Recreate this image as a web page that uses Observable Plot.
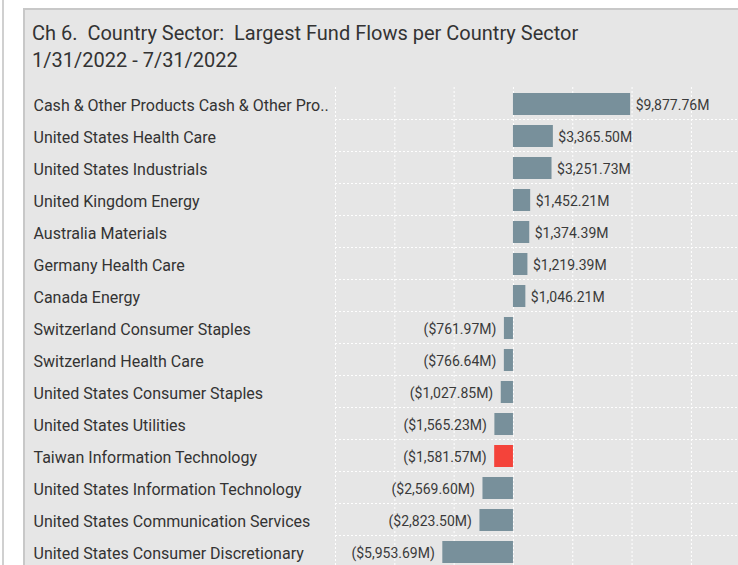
<!DOCTYPE html>
<html><head><meta charset="utf-8">
<script src="https://cdn.jsdelivr.net/npm/d3@7"></script>
<script src="https://cdn.jsdelivr.net/npm/@observablehq/plot@0.6"></script>
<style>
html,body{margin:0;padding:0;width:738px;height:565px;overflow:hidden;background:#fff;font-family:Roboto,sans-serif;}
#leftline{position:absolute;left:2px;top:0;width:2px;height:565px;background:#d0d0d0;}
#card{position:absolute;left:23px;top:8px;width:730px;height:600px;background:#e6e6e6;border-left:2px solid #c8c8c8;border-top:2px solid #c8c8c8;}
.t{position:absolute;left:32px;font-size:20px;line-height:24px;color:#333;white-space:pre;}
#chart{position:absolute;left:0;top:80px;}
</style></head>
<body>
<div id="leftline"></div>
<div id="card"></div>
<div class="t" style="top:21px">Ch 6.  Country Sector:  Largest Fund Flows per Country Sector</div>
<div class="t" style="top:48px">1/31/2022 - 7/31/2022</div>
<div id="chart"></div>
<script>
const names = [
  "Cash & Other Products Cash & Other Pro..",
  "United States Health Care",
  "United States Industrials",
  "United Kingdom Energy",
  "Australia Materials",
  "Germany Health Care",
  "Canada Energy",
  "Switzerland Consumer Staples",
  "Switzerland Health Care",
  "United States Consumer Staples",
  "United States Utilities",
  "Taiwan Information Technology",
  "United States Information Technology",
  "United States Communication Services",
  "United States Consumer Discretionary"
];
const values = [9877.76, 3365.50, 3251.73, 1452.21, 1374.39, 1219.39, 1046.21,
  -761.97, -766.64, -1027.85, -1565.23, -1581.57, -2569.60, -2823.50, -5953.69];
const highlighted = ["Taiwan Information Technology"];
const xTicks = [-15000, -10000, -5000, 0, 5000, 10000, 15000];

const data = names.map((n, i) => ({name: n, value: values[i], hl: highlighted.includes(n)}));
const f2 = d3.format(",.2f");
const fmt = v => v < 0 ? `($${f2(-v)}M)` : `$${f2(v)}M`;

const chart = Plot.plot({
  width: 738, height: 490,
  marginLeft: 335, marginRight: 0, marginTop: 7, marginBottom: 3,
  style: {background: "transparent", fontFamily: "Roboto, sans-serif", overflow: "visible"},
  x: {domain: [-15000, 18971], axis: null},
  y: {domain: names, padding: 0, axis: null, label: null},
  marks: [
    Plot.gridX(xTicks, {stroke: "#fff", strokeOpacity: 1, strokeDasharray: "2,2"}),
    Plot.ruleY(names, {y: d => d, dy: 16, stroke: "#fff", strokeOpacity: 1, strokeDasharray: "2,2"}),
    Plot.barX(data.filter(d => !d.hl), {x: "value", y: "name", fill: "#78909b", insetTop: 6, insetBottom: 4}),
    Plot.barX(data.filter(d => d.hl), {x: "value", y: "name", fill: "#f4433a", insetTop: 6, insetBottom: 4}),
    Plot.text(data.filter(d => d.value >= 0), {x: "value", y: "name", text: d => fmt(d.value), textAnchor: "start", dx: 5, dy: 2, fontSize: 14, fill: "#3a3a3a"}),
    Plot.text(data.filter(d => d.value < 0), {x: "value", y: "name", text: d => fmt(d.value), textAnchor: "end", dx: -8, dy: 2, fontSize: 14, fill: "#3a3a3a"}),
    Plot.axisY({anchor: "left", label: null, tickSize: 0, textAnchor: "start", dx: -293, dy: 2, fontSize: 16, fill: "#333"})
  ]
});
document.getElementById("chart").appendChild(chart);
</script>
</body></html>
